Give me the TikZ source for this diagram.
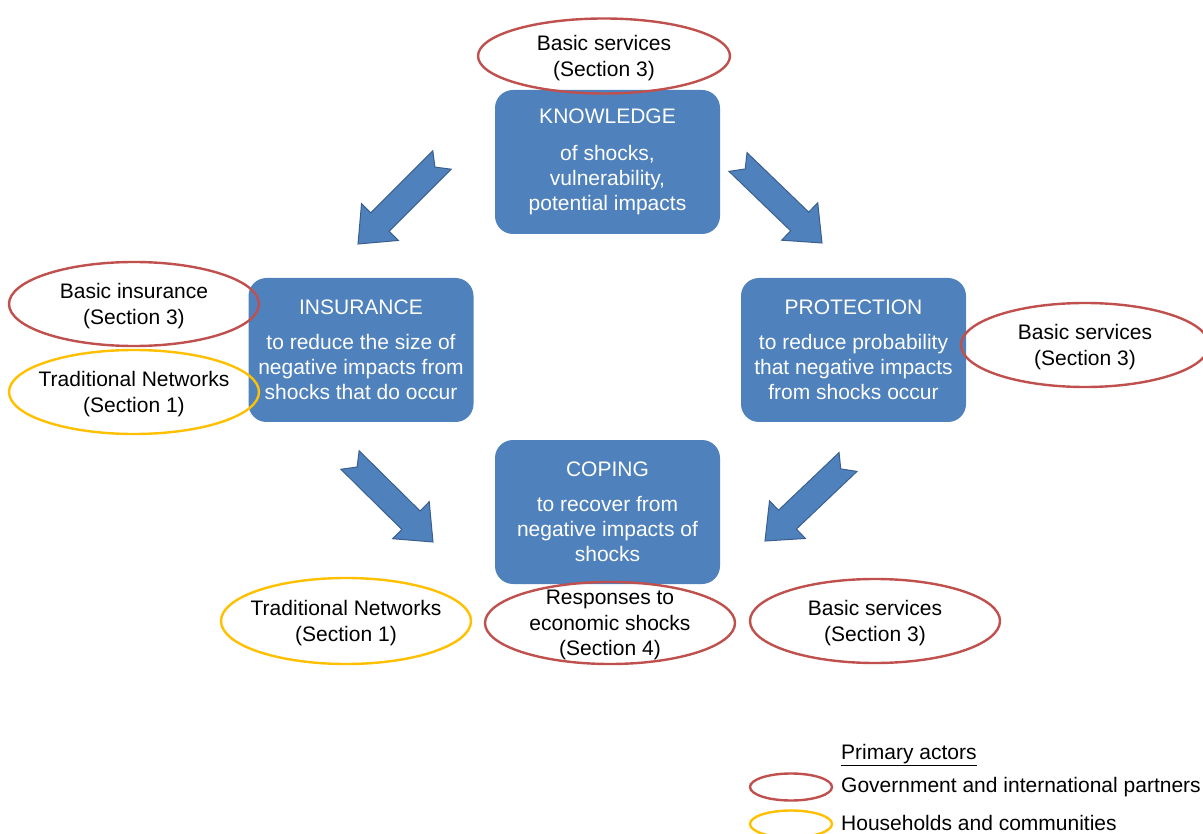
\documentclass[tikz,border=0pt]{standalone}
\usepackage{fontspec}
\setmainfont{Liberation Sans}
\usetikzlibrary{shapes.geometric,calc}
\definecolor{boxblue}{HTML}{4F81BD}
\definecolor{arrowedge}{HTML}{3A5F8F}
\definecolor{govred}{HTML}{C0504D}
\definecolor{homeyellow}{HTML}{FFC000}

\tikzset{
  stage/.style={rectangle, rounded corners=18pt, fill=boxblue, draw=none,
    minimum width=225pt, minimum height=144pt, text=white, align=center,
    font=\fontsize{21}{25}\selectfont},
  actortext/.style={align=center, text=black, inner sep=0pt, yshift=-2pt,
    font=\fontsize{21}{25.5}\selectfont},
  actor/.style={ellipse, draw, line width=2.4pt, minimum width=250pt,
    minimum height=84pt, inner sep=0pt,
    label={[actortext]center:#1}},
  gov/.style={actor=#1, draw=govred},
  home/.style={actor=#1, draw=homeyellow},
  keyoval/.style={ellipse, draw, line width=2.4pt, minimum width=82pt,
    minimum height=27pt, inner sep=0pt},
  keytext/.style={anchor=west, inner sep=0pt, font=\fontsize{21}{25}\selectfont},
  flow/.style={fill=boxblue, draw=arrowedge, line width=1pt, line join=miter}
}

% block arrow with notched tail, from coordinate #1 (tail) to #2 (tip)
\newcommand\blockarrow[2]{%
  \draw[flow]
    ($(#1)!13pt!90:(#2)$) --
    ($(#2)!31pt!(#1)!13pt!-90:(#1)$) --
    ($(#2)!31pt!(#1)!26pt!-90:(#1)$) --
    (#2) --
    ($(#2)!31pt!(#1)!26pt!90:(#1)$) --
    ($(#2)!31pt!(#1)!13pt!90:(#1)$) --
    ($(#1)!13pt!-90:(#2)$) --
    ($(#1)!10pt!(#2)$) -- cycle;}

\begin{document}
\begin{tikzpicture}[x=1pt, y=-1pt]
  \useasboundingbox[fill=white] (0,0) rectangle (1203,834);

  % stages of risk management
  \node[stage] (know) at (607.5,162) {KNOWLEDGE\\[12pt]of shocks,\\vulnerability,\\potential impacts};
  \node[stage] (ins) at (361,350) {INSURANCE\\[10pt]to reduce the size of\\negative impacts from\\shocks that do occur};
  \node[stage] (prot) at (853.5,350) {PROTECTION\\[10pt]to reduce probability\\that negative impacts\\from shocks occur};
  \node[stage] (cope) at (607.5,512) {COPING\\[10pt]to recover from\\negative impacts of\\shocks};

  % flow between stages
  \coordinate (a1t) at (442,160); \coordinate (a1h) at (358,244);
  \coordinate (a2t) at (738,162); \coordinate (a2h) at (822,243);
  \coordinate (a3t) at (350,460); \coordinate (a3h) at (433,542);
  \coordinate (a4t) at (848,462); \coordinate (a4h) at (765,541);
  \blockarrow{a1t}{a1h}
  \blockarrow{a2t}{a2h}
  \blockarrow{a3t}{a3h}
  \blockarrow{a4t}{a4h}

  % actors attached to each stage
  \node[gov={Basic services\\(Section 3)}, minimum width=252pt, minimum height=75pt] (bs1) at (604,56) {};
  \node[gov={Basic insurance\\(Section 3)}] (bi) at (134,304) {};
  \node[home={Traditional Networks\\(Section 1)}] (tn1) at (134,392) {};
  \node[gov={Basic services\\(Section 3)}, minimum width=248pt] (bs2) at (1085,345) {};
  \node[home={Traditional Networks\\(Section 1)}, minimum height=86pt] (tn2) at (346,621) {};
  \node[gov={Responses to\\economic shocks\\(Section 4)}, minimum height=82pt] (resp) at (610,623) {};
  \node[gov={Basic services\\(Section 3)}] (bs3) at (875,621) {};

  % key
  \node[keytext] (keyhead) at (841,755) {\underline{Primary actors}};
  \node[keyoval, draw=govred] (keygov) at (791,787) {};
  \node[keytext] (keygovt) at (841,787) {Government and international partners};
  \node[keyoval, draw=homeyellow] (keyhome) at (791,824) {};
  \node[keytext] (keyhomet) at (841,823) {Households and communities};
\end{tikzpicture}
\end{document}
